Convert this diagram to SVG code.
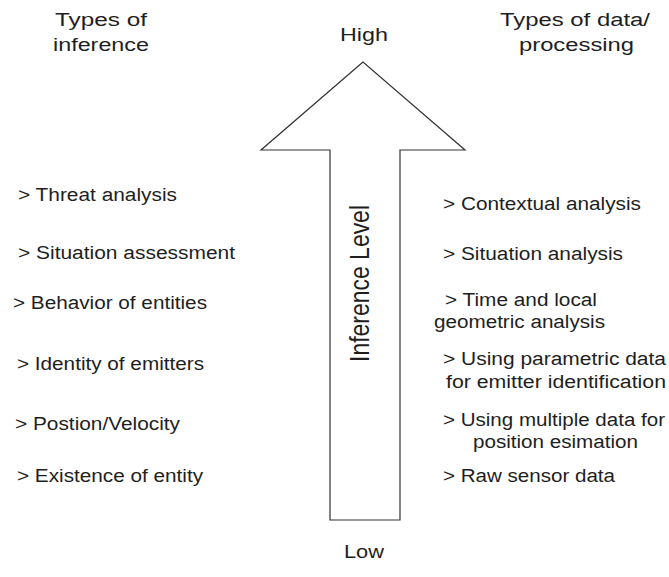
<svg xmlns="http://www.w3.org/2000/svg" width="669" height="577" viewBox="0 0 669 577">
<style>
text{font-family:"Liberation Sans",Arial,sans-serif;font-size:18px;fill:#1e1e1e}
.arrow{fill:#fff;stroke:#333;stroke-width:1.2;stroke-linejoin:miter}
</style>
<rect width="669" height="577" fill="#fff"/>
<g id="connectors">
<polygon class="arrow" points="363,62 261,150 330,150 330,520 400,520 400,150 465,150"/>
</g>
<g id="arrow-label">
<text transform="translate(369,283.5) scale(1.155,1) rotate(-90)" text-anchor="middle" font-size="24" textLength="157" lengthAdjust="spacingAndGlyphs" style="font-size:24px">Inference Level</text>
</g>
<g id="high"><text x="340" y="41" textLength="48" lengthAdjust="spacingAndGlyphs">High</text></g>
<g id="low"><text x="344" y="558" textLength="40" lengthAdjust="spacingAndGlyphs">Low</text></g>
<g id="header-left">
<text x="55" y="26" textLength="92" lengthAdjust="spacingAndGlyphs">Types of</text>
<text x="53" y="51" textLength="96" lengthAdjust="spacingAndGlyphs">inference</text>
</g>
<g id="header-right">
<text x="500" y="26" textLength="150" lengthAdjust="spacingAndGlyphs">Types of data/</text>
<text x="519" y="51" textLength="115" lengthAdjust="spacingAndGlyphs">processing</text>
</g>
<g id="left-1"><text x="18" y="201" textLength="159" lengthAdjust="spacingAndGlyphs">&gt; Threat analysis</text></g>
<g id="left-2"><text x="18" y="259" textLength="217" lengthAdjust="spacingAndGlyphs">&gt; Situation assessment</text></g>
<g id="left-3"><text x="13" y="309" textLength="194" lengthAdjust="spacingAndGlyphs">&gt; Behavior of entities</text></g>
<g id="left-4"><text x="17" y="370" textLength="187" lengthAdjust="spacingAndGlyphs">&gt; Identity of emitters</text></g>
<g id="left-5"><text x="15" y="430" textLength="165" lengthAdjust="spacingAndGlyphs">&gt; Postion/Velocity</text></g>
<g id="left-6"><text x="17" y="482" textLength="186" lengthAdjust="spacingAndGlyphs">&gt; Existence of entity</text></g>
<g id="right-1"><text x="443" y="210" textLength="198" lengthAdjust="spacingAndGlyphs">&gt; Contextual analysis</text></g>
<g id="right-2"><text x="443" y="260" textLength="180" lengthAdjust="spacingAndGlyphs">&gt; Situation analysis</text></g>
<g id="right-3">
<text x="445" y="306" textLength="152" lengthAdjust="spacingAndGlyphs">&gt; Time and local</text>
<text x="434" y="328" textLength="171" lengthAdjust="spacingAndGlyphs">geometric analysis</text>
</g>
<g id="right-4">
<text x="443" y="365" textLength="223" lengthAdjust="spacingAndGlyphs">&gt; Using parametric data</text>
<text x="446" y="388" textLength="220" lengthAdjust="spacingAndGlyphs">for emitter identification</text>
</g>
<g id="right-5">
<text x="443" y="426" textLength="222" lengthAdjust="spacingAndGlyphs">&gt; Using multiple data for</text>
<text x="473" y="448" textLength="165" lengthAdjust="spacingAndGlyphs">position esimation</text>
</g>
<g id="right-6"><text x="443" y="482" textLength="172" lengthAdjust="spacingAndGlyphs">&gt; Raw sensor data</text></g>
</svg>
